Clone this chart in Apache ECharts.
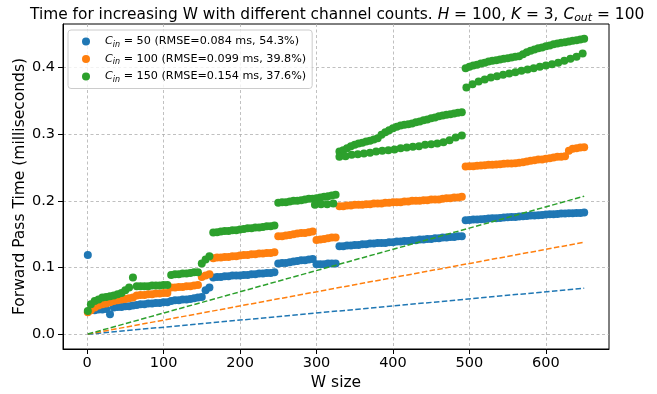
<!DOCTYPE html>
<html><head><meta charset="utf-8">
<script src="https://cdn.jsdelivr.net/npm/echarts@6/dist/echarts.min.js"></script>
<style>html,body{margin:0;padding:0;background:#fff}#c{width:657px;height:394px}</style>
</head><body><div id="c"></div>
<script>
// ---- data ----
const wValues = [1,
  5,10,15,20,25, 30,35,40,45,50, 55,60,65,70,75, 80,85,90,95,100,
  105,110,115,120,125, 130,135,140,145,150, 155,160,165,170,175, 180,185,190,195,200,
  205,210,215,220,225, 230,235,240,245,250, 255,260,265,270,275, 280,285,290,295,300,
  305,310,315,320,325, 330,335,340,345,350, 355,360,365,370,375, 380,385,390,395,400,
  405,410,415,420,425, 430,435,440,445,450, 455,460,465,470,475, 480,485,490,495,500,
  505,510,515,520,525, 530,535,540,545,550, 555,560,565,570,575, 580,585,590,595,600,
  605,610,615,620,625, 630,635,640,645,650];
const blueT = [0.119,
  0.036,0.036,0.037,0.037,0.038, 0.030,0.040,0.041,0.041,0.042, 0.042,0.043,0.044,0.045,0.045, 0.046,0.046,0.047,0.047,0.048,
  0.048,0.050,0.051,0.051,0.052, 0.052,0.053,0.054,0.055,0.056, 0.066,0.070,0.085,0.086,0.086, 0.087,0.087,0.088,0.088,0.088,
  0.089,0.089,0.090,0.090,0.091, 0.091,0.092,0.092,0.093,0.106, 0.107,0.107,0.108,0.109,0.110, 0.111,0.111,0.112,0.113,0.105,
  0.105,0.105,0.106,0.106,0.106, 0.132,0.132,0.133,0.133,0.134, 0.134,0.135,0.135,0.136,0.136, 0.137,0.137,0.137,0.138,0.138,
  0.139,0.139,0.140,0.140,0.141, 0.141,0.142,0.142,0.143,0.143, 0.144,0.144,0.145,0.145,0.146, 0.146,0.147,0.147,0.171,0.1715,
  0.172,0.172,0.1725,0.173,0.1735, 0.174,0.174,0.1745,0.175,0.1755, 0.176,0.176,0.1765,0.177,0.1775, 0.178,0.178,0.1785,0.179,0.1795,
  0.180,0.180,0.1805,0.181,0.181, 0.1815,0.1815,0.182,0.182,0.1825];
const orangeT = [0.033,
  0.036,0.040,0.043,0.045,0.046, 0.048,0.050,0.051,0.052,0.053, 0.054,0.055,0.058,0.059,0.059, 0.060,0.060,0.061,0.061,0.062,
  0.062,0.070,0.070,0.071,0.071, 0.072,0.072,0.073,0.074,0.086, 0.088,0.090,0.114,0.115,0.115, 0.116,0.116,0.117,0.117,0.118,
  0.119,0.119,0.120,0.120,0.121, 0.121,0.122,0.122,0.123,0.147, 0.147,0.148,0.149,0.150,0.151, 0.152,0.152,0.153,0.154,0.1415,
  0.142,0.143,0.144,0.145,0.145, 0.192,0.192,0.193,0.193,0.194, 0.194,0.194,0.195,0.195,0.196, 0.196,0.196,0.197,0.197,0.198,
  0.198,0.198,0.199,0.199,0.200, 0.200,0.200,0.201,0.201,0.202, 0.202,0.202,0.203,0.204,0.204, 0.205,0.205,0.206,0.2515,0.252,
  0.252,0.2525,0.253,0.2535,0.254, 0.254,0.2545,0.255,0.2555,0.256, 0.256,0.2565,0.257,0.258,0.259, 0.260,0.261,0.262,0.262,0.263,
  0.264,0.265,0.266,0.266,0.267, 0.275,0.278,0.279,0.280,0.2805];
const greenT = [0.035,
  0.045,0.050,0.052,0.055,0.056, 0.057,0.058,0.060,0.062,0.066, 0.070,0.085,0.072,0.072,0.072, 0.072,0.073,0.073,0.073,0.074,
  0.074,0.089,0.090,0.090,0.091, 0.091,0.092,0.093,0.093,0.106, 0.112,0.117,0.1525,0.153,0.154, 0.155,0.155,0.156,0.156,0.157,
  0.158,0.159,0.159,0.160,0.160, 0.161,0.162,0.162,0.163,0.197, 0.198,0.198,0.199,0.200,0.200, 0.201,0.202,0.203,0.203,0.204,
  0.205,0.206,0.207,0.208,0.209, 0.274,0.276,0.279,0.282,0.284, 0.286,0.287,0.289,0.290,0.292, 0.294,0.299,0.303,0.306,0.309,
  0.311,0.313,0.314,0.315,0.316, 0.318,0.319,0.321,0.322,0.324, 0.325,0.327,0.328,0.329,0.330, 0.331,0.332,0.333,0.399,0.401,
  0.403,0.404,0.406,0.407,0.409, 0.410,0.411,0.412,0.413,0.414, 0.415,0.416,0.417,0.420,0.423, 0.425,0.427,0.429,0.430,0.432,
  0.433,0.435,0.436,0.437,0.438, 0.439,0.440,0.441,0.442,0.443];
// lower branch of the C_in=150 series
const greenLowW = [298,306,314,322,
  330,338,346,354,362,370,378,386,394,402,410,418,426,434,442,450,458,466,474,482,490,
  496,504,512,520,528,536,544,552,560,568,576,584,592,600,608,616,624,632,640,648];
const greenLowT = [0.194,0.195,0.195,0.196,
  0.266,0.267,0.269,0.270,0.271,0.272,0.274,0.275,0.276,0.277,0.279,0.280,0.281,0.282,0.284,0.285,0.286,0.288,0.291,0.295,0.298,
  0.370,0.375,0.379,0.382,0.385,0.387,0.389,0.391,0.393,0.395,0.397,0.399,0.401,0.403,0.405,0.407,0.410,0.413,0.416,0.421];
// linear fits (dashed)
const fitW = [1, 650];
const blueFit = [0.0001, 0.069];
const orangeFit = [0.0002, 0.138];
const greenFit = [0.0003, 0.207];
const xTicks = [0,100,200,300,400,500,600];
const yTicks = [0,0.1,0.2,0.3,0.4];
const seriesNames = ['C50','C100','C150'];
const legendLabels = [
  '{i|C}{s|in}{n| = 50 (RMSE=0.084 ms, 54.3%)}',
  '{i|C}{s|in}{n| = 100 (RMSE=0.099 ms, 39.8%)}',
  '{i|C}{s|in}{n| = 150 (RMSE=0.154 ms, 37.6%)}'];
const colors = ['#1f77b4','#ff7f0e','#2ca02c'];

// ---- chart ----
const FONT = 'DejaVu Sans';
const pairs = (xs, ys) => xs.map((x, i) => [x, ys[i]]);
const chart = echarts.init(document.getElementById('c'), null, {renderer: 'canvas'});
const gridLine = {show: true, lineStyle: {color: '#b0b0b0', type: [3, 2.5], width: 0.8}};
const dashLine = (name, ys, color) => ({
  name: name + '_fit', type: 'line', data: pairs(fitW, ys), symbol: 'none', silent: true,
  lineStyle: {color: color, width: 1.5, type: [5.5, 2.4]}, z: 5, animation: false
});
chart.setOption({
  animation: false,
  textStyle: {fontFamily: FONT},
  title: {
    text: '{n|Time for increasing W with different channel counts. }{i|H}{n| = 100, }{i|K}{n| = 3, }{i|C}{s|out}{n| = 100}',
    left: 25, top: 0,
    textStyle: {
      fontFamily: FONT, fontSize: 15.4, fontWeight: 'normal', color: '#000',
      rich: {
        n: {fontFamily: FONT, fontSize: 15.4, color: '#000'},
        i: {fontFamily: FONT, fontSize: 15.4, fontStyle: 'italic', color: '#000'},
        s: {fontFamily: FONT, fontSize: 11, fontStyle: 'italic', color: '#000', padding: [8, 0, 0, 0]}
      }
    }
  },
  legend: {
    orient: 'vertical', left: 68, top: 30,
    data: seriesNames.map((n, i) => ({name: n, icon: 'circle', itemStyle: {color: colors[i]}})),
    itemWidth: 8, itemHeight: 8, itemGap: 5,
    padding: [6, 6, 5, 14],
    backgroundColor: 'rgba(255,255,255,0.8)', borderColor: '#cccccc', borderWidth: 1, borderRadius: 3,
    formatter: name => legendLabels[seriesNames.indexOf(name)],
    textStyle: {
      fontFamily: FONT, fontSize: 11.2, color: '#000', padding: [0, 0, 0, 10],
      rich: {
        n: {fontFamily: FONT, fontSize: 11.2, color: '#000'},
        i: {fontFamily: FONT, fontSize: 11.2, fontStyle: 'italic', color: '#000'},
        s: {fontFamily: FONT, fontSize: 8, fontStyle: 'italic', color: '#000', padding: [6, 0, 0, 0]}
      }
    }
  },
  grid: {left: 63, right: 48, top: 24, bottom: 45, outerBoundsMode: 'none', containLabel: false,
    show: true, borderColor: '#000', borderWidth: 1, backgroundColor: 'transparent'},
  xAxis: {
    type: 'value', min: -31.45, max: 682.45,
    name: 'W size', nameLocation: 'middle', nameGap: 26, nameMoveOverlap: false,
    nameTextStyle: {fontFamily: FONT, fontSize: 15.5, color: '#000'},
    axisLine: {show: true, onZero: false, lineStyle: {color: '#000', width: 1}},
    axisTick: {show: true, length: 5, customValues: xTicks, lineStyle: {color: '#000'}},
    axisLabel: {customValues: xTicks, fontFamily: FONT, fontSize: 14.5, color: '#000', margin: 7},
    splitLine: gridLine
  },
  yAxis: {
    type: 'value', min: -0.0221, max: 0.4652,
    name: 'Forward Pass Time (milliseconds)', nameLocation: 'middle', nameGap: 35, nameMoveOverlap: false,
    nameTextStyle: {fontFamily: FONT, fontSize: 15.5, color: '#000'},
    axisLine: {show: true, onZero: false, lineStyle: {color: '#000', width: 1}},
    axisTick: {show: true, length: 5, customValues: yTicks, lineStyle: {color: '#000'}},
    axisLabel: {customValues: yTicks, fontFamily: FONT, fontSize: 14.5, color: '#000', margin: 8,
      formatter: v => v.toFixed(1)},
    splitLine: gridLine
  },
  series: [
    {name: seriesNames[0], type: 'scatter', data: pairs(wValues, blueT), symbolSize: 8, itemStyle: {color: colors[0], opacity: 1}, z: 2},
    {name: seriesNames[1], type: 'scatter', data: pairs(wValues, orangeT), symbolSize: 8, itemStyle: {color: colors[1], opacity: 1}, z: 3},
    {name: seriesNames[2], type: 'scatter', data: pairs(wValues, greenT).concat(pairs(greenLowW, greenLowT)), symbolSize: 8, itemStyle: {color: colors[2], opacity: 1}, z: 4},
    dashLine(seriesNames[0], blueFit, colors[0]),
    dashLine(seriesNames[1], orangeFit, colors[1]),
    dashLine(seriesNames[2], greenFit, colors[2])
  ]
});
</script>
</body></html>
